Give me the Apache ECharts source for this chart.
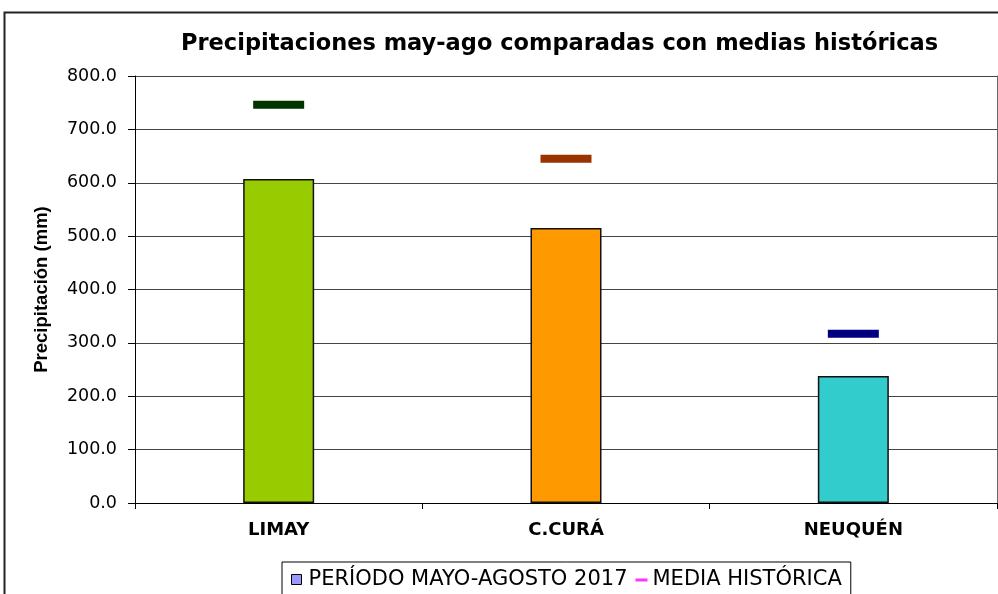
<!DOCTYPE html>
<html>
<head>
<meta charset="utf-8">
<script src="https://cdn.jsdelivr.net/npm/echarts@6/dist/echarts.min.js"></script>
<style>
  html, body { margin: 0; padding: 0; background: #fff; }
  #chart { width: 998px; height: 594px; }
</style>
</head>
<body>
<div id="chart"></div>
<script>
// data
const categories = ['LIMAY', 'C.CURÁ', 'NEUQUÉN'];
const periodValues = [607, 515, 238];
const mediaValues = [746, 645, 317];
const barColors = ['#99CC00', '#FF9900', '#33CCCC'];
const mediaColors = ['#003300', '#993300', '#000080'];

const chart = echarts.init(document.getElementById('chart'));

const font = 'DejaVu Sans, sans-serif';

const option = {
  animation: false,
  title: {
    text: 'Precipitaciones may-ago comparadas con medias históricas',
    left: 176,
    top: 28,
    textStyle: { fontFamily: font, fontSize: 22.5, fontWeight: 'bold', color: '#000' },
  },
  graphic: [
    {
      // outer chart frame
      type: 'rect',
      shape: { x: 4.5, y: 12.5, width: 1010, height: 620 },
      style: { fill: 'none', stroke: '#222', lineWidth: 2 },
      silent: true,
    },
  ],
  legend: {
    left: 282,
    top: 562,
    padding: [7, 9, 12, 9],
    borderColor: '#000',
    borderWidth: 1,
    itemGap: 8,
    itemWidth: 12,
    itemHeight: 12,
    textStyle: { fontFamily: font, fontSize: 21, color: '#000' },
    data: [
      {
        name: 'PERÍODO MAYO-AGOSTO 2017',
        icon: 'path://M0,1 L10,1 L10,11 L0,11 Z M12,0 L12,0 M12,12 L12,12',
        itemStyle: { color: '#9999FF', borderColor: '#000', borderWidth: 1 },
      },
      {
        name: 'MEDIA HISTÓRICA',
        icon: 'path://M0,0 L0,0 M0,5 L12,5 L12,8 L0,8 Z M12,12 L12,12',
        itemStyle: { color: '#FF00FF' },
      },
    ],
  },
  grid: { left: 135, right: 1, top: 76, bottom: 91 },
  xAxis: {
    type: 'category',
    data: categories,
    boundaryGap: true,
    axisLine: { lineStyle: { color: '#000', width: 1 } },
    axisTick: { show: true, length: 6, lineStyle: { color: '#000' } },
    axisLabel: { fontFamily: font, fontSize: 18, fontWeight: 'bold', color: '#000', margin: 18 },
  },
  yAxis: [
    {
      type: 'value',
      min: 0,
      max: 800,
      interval: 100,
      name: 'Precipitación (mm)',
      nameLocation: 'middle',
      nameGap: 84,
      nameTextStyle: { fontFamily: 'Liberation Sans, Arial, sans-serif', fontSize: 18.5, fontWeight: 'bold', color: '#000' },
      axisLine: { show: true, lineStyle: { color: '#000' } },
      axisTick: { show: true, length: 7, lineStyle: { color: '#000' } },
      axisLabel: {
        fontFamily: font,
        fontSize: 17.5,
        color: '#000',
        margin: 18,
        formatter: (v) => v.toFixed(1),
      },
      splitLine: { show: true, lineStyle: { color: '#444', width: 1 } },
    },
    {
      type: 'value',
      min: 0,
      max: 800,
      interval: 100,
      position: 'right',
      axisLine: { show: true, lineStyle: { color: '#666' } },
      axisTick: { show: false },
      axisLabel: { show: false },
      splitLine: { show: false },
    },
  ],
  series: [
    {
      name: 'PERÍODO MAYO-AGOSTO 2017',
      type: 'bar',
      barWidth: 71,
      data: periodValues.map((v, i) => ({
        value: v,
        itemStyle: { color: barColors[i], borderColor: '#111', borderWidth: 1.5 },
      })),
    },
    {
      name: 'MEDIA HISTÓRICA',
      type: 'scatter',
      symbol: 'rect',
      symbolSize: [51, 8],
      data: mediaValues.map((v, i) => ({
        value: v,
        itemStyle: { color: mediaColors[i], opacity: 1 },
      })),
    },
  ],
};

chart.setOption(option);
</script>
</body>
</html>
